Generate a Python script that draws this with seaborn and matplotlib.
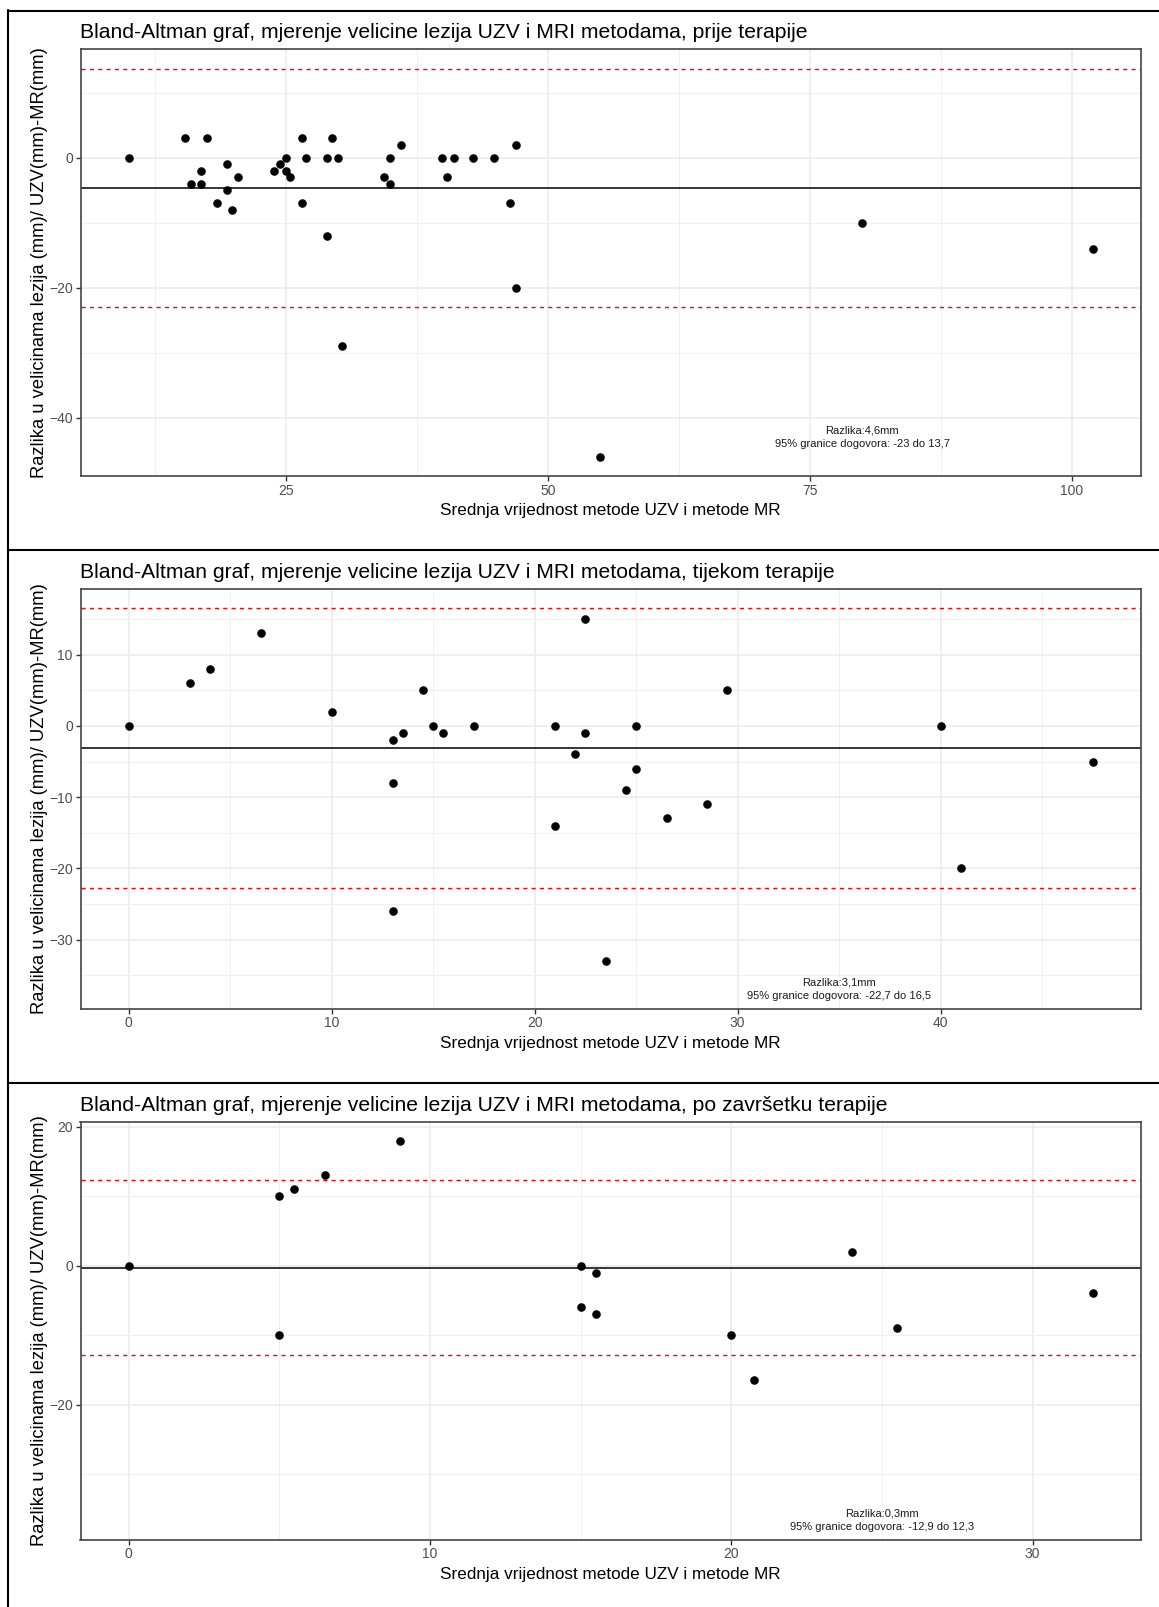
import numpy as np
import pandas as pd
import seaborn as sns
import matplotlib.pyplot as plt
from matplotlib.lines import Line2D
from matplotlib.ticker import MultipleLocator

# Bland-Altman, prije terapije
mean_pre = [10, 15.4, 17.5, 15.9, 16.9, 16.9, 18.4, 19.4, 19.4, 19.9,
            20.4, 23.9, 24.4, 25, 25, 25.4, 26.5, 26.5, 26.9, 28.9,
            28.9, 29.4, 30, 30.4, 34.4, 34.9, 34.9, 36, 39.9, 40.4,
            41, 42.9, 44.9, 46.4, 47, 47, 55, 80, 102]
diff_pre = [0, 3, 3, -4, -2, -4, -7, -1, -5, -8,
            -3, -2, -1, 0, -2, -3, 3, -7, 0, 0,
            -12, 3, 0, -29, -3, 0, -4, 2, 0, -3,
            0, 0, 0, -7, 2, -20, -46, -10, -14]

# tijekom terapije
mean_during = [0, 3, 4, 6.5, 10, 13, 13, 13, 13.5, 14.5, 15, 15.5, 17, 21,
               21, 22, 22.5, 22.5, 23.5, 24.5, 25, 25, 26.5, 28.5, 29.5, 40, 41, 47.5]
diff_during = [0, 6, 8, 13, 2, -2, -8, -26, -1, 5, 0, -1, 0, 0,
               -14, -4, 15, -1, -33, -9, 0, -6, -13, -11, 5, 0, -20, -5]

# po zavrsetku terapije
mean_post = [0, 5, 5.5, 6.5, 9, 5, 15, 15.5, 15, 15.5, 20, 20.75, 24, 25.5, 32]
diff_post = [0, 10, 11, 13, 18, -10, 0, -1, -6, -7, -10, -16.4, 2, -9, -4]

bias = [-4.6, -3.1, -0.3]
loa_low = [-23, -22.7, -12.9]
loa_high = [13.7, 16.5, 12.3]

titles = ["Bland-Altman graf, mjerenje velicine lezija UZV i MRI metodama, prije terapije",
          "Bland-Altman graf, mjerenje velicine lezija UZV i MRI metodama, tijekom terapije",
          "Bland-Altman graf, mjerenje velicine lezija UZV i MRI metodama, po završetku terapije"]
notes = ["Razlika:4,6mm\n95% granice dogovora: -23 do 13,7",
         "Razlika:3,1mm\n95% granice dogovora: -22,7 do 16,5",
         "Razlika:0,3mm\n95% granice dogovora: -12,9 do 12,3"]
note_x = [80, 35, 25]
note_y = [-43, -37, -36.7]
x_step = [25, 10, 10]
y_step = [20, 10, 20]

xlab = "Srednja vrijednost metode UZV i metode MR"
ylab = "Razlika u velicinama lezija (mm)/ UZV(mm)-MR(mm)"

sns.set_theme(style="white")
plt.rcParams['font.family'] = ['Liberation Sans', 'DejaVu Sans']

W, H = 1159, 1607
fig = plt.figure(figsize=(W / 100, H / 100), dpi=100)

# pixel boxes of the panels (left, top, right, bottom)
boxes = [(80.5, 49.3, 1141, 476), (80.5, 589.3, 1141, 1008.5), (80.5, 1121.7, 1141, 1539.5)]
panels = [(mean_pre, diff_pre), (mean_during, diff_during), (mean_post, diff_post)]

for i, (mx, dy) in enumerate(panels):
    l, t, r, b = boxes[i]
    ax = fig.add_axes([l / W, 1 - b / H, (r - l) / W, (b - t) / H])
    df = pd.DataFrame({'mean': mx, 'diff': dy})

    ax.set_axisbelow(True)
    ax.grid(which='major', color='#EBEBEB', lw=1.1)
    ax.grid(which='minor', color='#F0F0F0', lw=0.7)

    sns.scatterplot(data=df, x='mean', y='diff', ax=ax, color='black', s=38,
                    linewidth=0, legend=False, zorder=3)
    ax.axhline(bias[i], color='black', lw=1.1, zorder=2)
    ax.axhline(loa_low[i], color='red', lw=1.0, ls=(0, (3, 3)), zorder=2)
    ax.axhline(loa_high[i], color='red', lw=1.0, ls=(0, (3, 3)), zorder=2)
    ax.text(note_x[i], note_y[i], notes[i], ha='center', va='center',
            fontsize=8, linespacing=1.4, color='#1a1a1a')

    # ggplot-like 5% expansion
    xs = list(mx)
    ys = list(dy) + [loa_low[i], loa_high[i], note_y[i]]
    xr = max(xs) - min(xs)
    yr = max(ys) - min(ys)
    ax.set_xlim(min(xs) - 0.05 * xr, max(xs) + 0.05 * xr)
    ax.set_ylim(min(ys) - 0.05 * yr, max(ys) + 0.05 * yr)

    ax.xaxis.set_major_locator(MultipleLocator(x_step[i]))
    ax.xaxis.set_minor_locator(MultipleLocator(x_step[i] / 2))
    ax.yaxis.set_major_locator(MultipleLocator(y_step[i]))
    ax.yaxis.set_minor_locator(MultipleLocator(y_step[i] / 2))
    ax.tick_params(which='major', length=3.5, width=1, color='#333333',
                   labelsize=10, labelcolor='#4D4D4D', pad=2,
                   bottom=True, left=True)
    ax.tick_params(which='minor', length=0)

    for sp in ax.spines.values():
        sp.set_color('#444444')
        sp.set_linewidth(1.2)

    ax.set_xlabel(xlab, fontsize=12.3, labelpad=4, color='black')
    ax.set_ylabel(ylab, fontsize=13.2, color='black')
    ax.yaxis.set_label_coords(-0.0305, 0.5)
    ax.set_title(titles[i], loc='left', fontsize=15.2, pad=8, color='black')

# frame lines of the composed screenshot
fig.add_artist(Line2D([8 / W, 8 / W], [0, 1 - 10 / H], color='black', lw=1.5))
for yy in [11, 550, 1082.5]:
    fig.add_artist(Line2D([8 / W, 1], [1 - yy / H, 1 - yy / H], color='black', lw=1.5))

fig.savefig('out.png', dpi=100)
